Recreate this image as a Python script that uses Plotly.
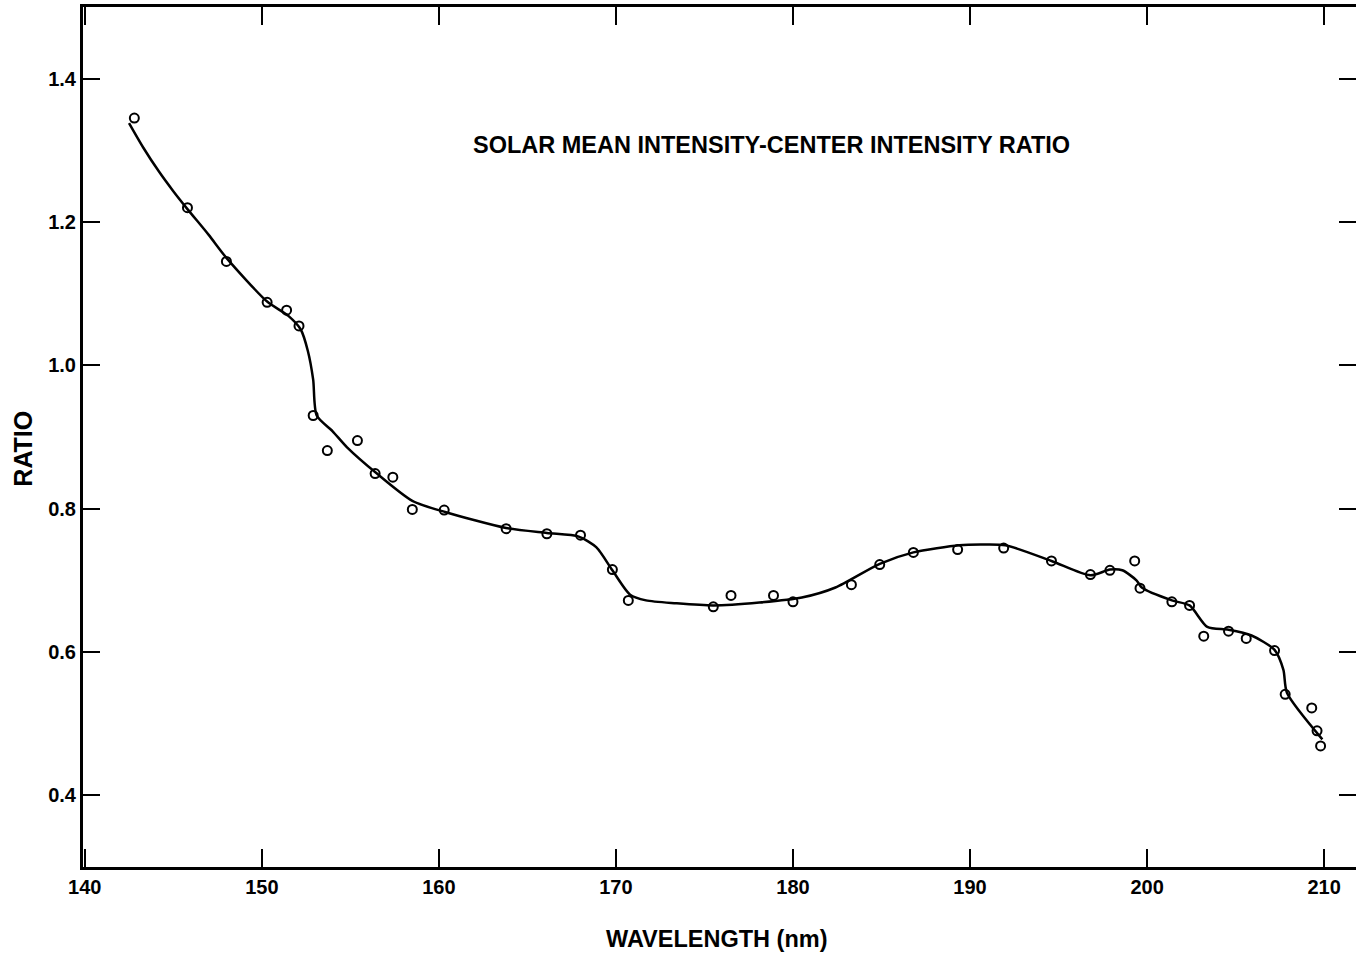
import plotly.graph_objects as go

# Measured points (wavelength nm, ratio)
pt_x = [142.8, 145.8, 148.0, 150.3, 151.4, 152.1, 152.9, 153.7, 155.4, 156.4,
        157.4, 158.5, 160.3, 163.8, 166.1, 168.0, 169.8, 170.7, 175.5, 176.5,
        178.9, 180.0, 183.3, 184.9, 186.8, 189.3, 191.9, 194.6, 196.8, 197.9,
        199.3, 199.6, 201.4, 202.4, 203.2, 204.6, 205.6, 207.2, 207.8, 209.3,
        209.6, 209.8]
pt_y = [1.345, 1.220, 1.145, 1.088, 1.077, 1.055, 0.930, 0.881, 0.895, 0.849,
        0.844, 0.799, 0.798, 0.772, 0.765, 0.763, 0.715, 0.672, 0.663, 0.679,
        0.679, 0.670, 0.694, 0.722, 0.739, 0.743, 0.745, 0.727, 0.708, 0.714,
        0.727, 0.689, 0.670, 0.665, 0.622, 0.629, 0.619, 0.602, 0.541, 0.522,
        0.490, 0.469]

# Fitted curve
curve_x = [142.5, 143.3, 144.2, 145.0, 145.8, 147.0, 148.0, 150.3, 151.5, 152.2,
           152.6, 152.9, 153.1, 154.0, 154.8, 156.5, 158.5, 160.4, 163.8, 166.1,
           167.9, 168.9, 169.8, 170.8, 171.7, 173.4, 175.5, 178.1, 180.5, 182.4,
           184.9, 186.8, 189.4, 190.6, 192.0, 194.6, 196.8, 197.9, 198.6, 199.4,
           199.7, 201.4, 202.4, 203.4, 204.6, 205.9, 207.2, 207.7, 207.9, 209.9]
curve_y = [1.338, 1.304, 1.270, 1.243, 1.218, 1.182, 1.150, 1.089, 1.069, 1.050,
           1.020, 0.980, 0.930, 0.908, 0.886, 0.849, 0.811, 0.795, 0.773, 0.766,
           0.761, 0.746, 0.714, 0.680, 0.672, 0.668, 0.665, 0.669, 0.676, 0.690,
           0.723, 0.739, 0.749, 0.750, 0.749, 0.727, 0.707, 0.715, 0.714, 0.700,
           0.690, 0.672, 0.665, 0.635, 0.631, 0.623, 0.603, 0.575, 0.543, 0.478]

x_ticks = [140, 150, 160, 170, 180, 190, 200, 210]
y_ticks = [0.4, 0.6, 0.8, 1.0, 1.2, 1.4]

title_text = "SOLAR MEAN INTENSITY-CENTER INTENSITY RATIO"
x_title = "WAVELENGTH (nm)"
y_title = "RATIO"

FONT = "Liberation Sans"

fig = go.Figure()
fig.add_trace(go.Scatter(x=curve_x, y=curve_y, mode="lines",
                         line=dict(color="black", width=2.5, shape="spline", smoothing=0.7),
                         hoverinfo="skip", showlegend=False))
fig.add_trace(go.Scatter(x=pt_x, y=pt_y, mode="markers",
                         marker=dict(symbol="circle-open", size=9, color="black",
                                     line=dict(color="black", width=2)),
                         showlegend=False))

fig.update_layout(
    width=1356, height=955,
    margin=dict(l=83, r=0, t=7, b=88, autoexpand=False),
    paper_bgcolor="white", plot_bgcolor="white",
    font=dict(family=FONT, color="black", size=19, weight="bold"),
    xaxis=dict(range=[139.9, 211.8], tickvals=x_ticks, ticktext=[str(v) for v in x_ticks],
               ticks="inside", ticklen=18, tickwidth=2, tickcolor="black",
               showline=True, linewidth=3, linecolor="black", mirror="ticks",
               showgrid=False, zeroline=False,
               tickfont=dict(size=20, family=FONT, weight="bold")),
    yaxis=dict(range=[0.3, 1.5], tickvals=y_ticks, ticktext=[f"{v:.1f}" for v in y_ticks],
               ticks="inside", ticklen=17, tickwidth=2, tickcolor="black",
               showline=True, linewidth=3, linecolor="black", mirror="ticks",
               showgrid=False, zeroline=False,
               tickfont=dict(size=20, family=FONT, weight="bold")),
    annotations=[
        dict(x=178.8, y=1.308, xref="x", yref="y", text=title_text, showarrow=False,
             font=dict(size=23.5, family=FONT, color="black", weight="bold")),
        dict(x=0.498, y=-0.101, xref="paper", yref="paper", text=x_title, showarrow=False,
             font=dict(size=23.5, family=FONT, color="black", weight="bold")),
        dict(x=-0.060, y=0.486, xref="paper", yref="paper", text=y_title, showarrow=False,
             textangle=-90, font=dict(size=25, family=FONT, color="black", weight="bold")),
    ],
)

fig.write_html("out.html", config={"displayModeBar": False},
               post_script="document.body.style.margin='0';document.body.style.padding='0';")
